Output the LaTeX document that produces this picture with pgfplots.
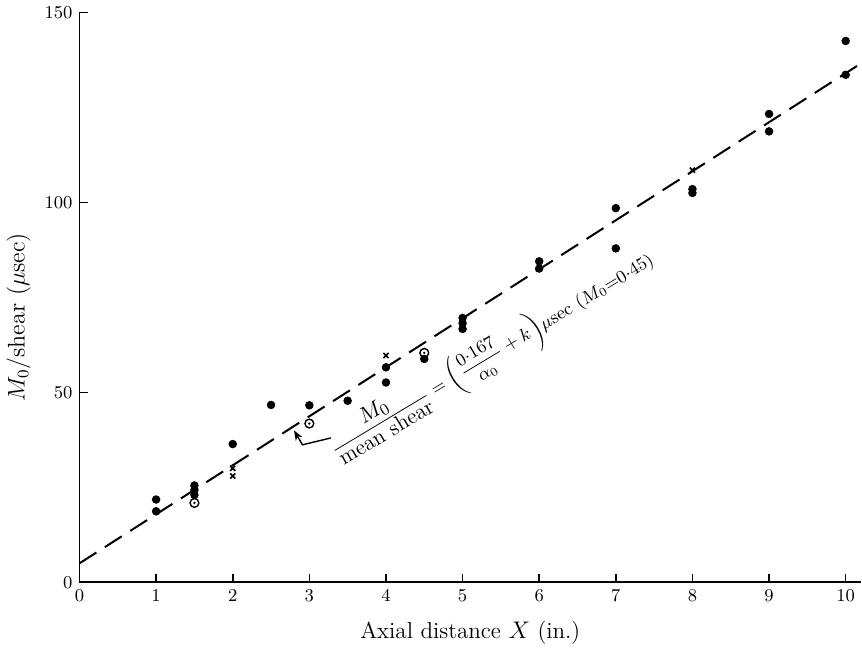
\documentclass[border=0pt]{standalone}
\usepackage{pgfplots}
\pgfplotsset{compat=1.18}
\usetikzlibrary{arrows.meta}
\usepackage{amsmath}

% open circle with a dot in the middle
\pgfdeclareplotmark{odot}{%
  \pgfpathcircle{\pgfpointorigin}{\pgfplotmarksize}\pgfusepathqstroke
  \pgfpathcircle{\pgfpointorigin}{0.3\pgfplotmarksize}\pgfusepathqfill}

\begin{document}
\begin{tikzpicture}
\begin{axis}[
  scale only axis,
  width=389.5pt, height=284pt,
  xmin=0, xmax=10.2,
  ymin=0, ymax=150,
  axis lines*=left,
  axis line style={line width=0.9pt},
  xtick={0,1,...,10},
  ytick={0,50,100,150},
  tick align=inside,
  major tick length=4pt,
  tick style={line width=0.8pt, black},
  ticklabel style={font=\small},
  xlabel={Axial distance $X$ (in.)},
  ylabel={$M_0$/shear ($\mu$sec)},
  xlabel style={font=\fontsize{11.5}{13}\selectfont, yshift=-3pt},
  ylabel style={font=\fontsize{12}{14}\selectfont, xshift=-10pt},
  clip=false,
]
% fitted line
\addplot[black, line width=1pt, dash pattern=on 10pt off 5pt] coordinates {
  (0,5.0) (10.2,136.6)
};
% filled points
\addplot[only marks, mark=*, mark size=1.9pt, black] coordinates {
  (1,21.8) (1,18.7)
  (1.5,25.5) (1.5,24.3) (1.5,23.0)
  (2,36.4)
  (2.5,46.7)
  (3,46.6)
  (3.5,47.8)
  (4,56.6) (4,52.6)
  (4.5,58.8)
  (5,69.6) (5,68.2) (5,66.7)
  (6,84.5) (6,82.6)
  (7,98.5) (7,87.9)
  (8,103.5) (8,102.5)
  (9,123.3) (9,118.7)
  (10,142.5) (10,133.6)
};
% open circles
\addplot[only marks, mark=odot, mark size=2.2pt, black, mark options={line width=0.7pt}] coordinates {
  (1.5,20.9) (3,41.8) (4.5,60.4)
};
% crosses
\addplot[only marks, mark=x, mark size=1.8pt, black, mark options={line width=0.8pt}] coordinates {
  (2,30.0) (2,28.0) (4,59.7) (8,108.5)
};
% annotation
\node[rotate=31, anchor=base west, inner sep=0pt, font=\small] at (axis cs:3.33,33.3)
  {$\dfrac{\text{\fontsize{11}{13}\selectfont$M_0$}}{\text{\fontsize{11}{13}\selectfont mean shear}}=\biggl(\dfrac{0{\cdot}167}{\alpha_0}+k\biggr)\mu\text{sec}\ (M_0{=}0{\cdot}45)$};
\draw[line width=0.7pt, -{Stealth[length=5pt]}] (axis cs:3.28,38.0) -- (axis cs:2.91,36.2) -- (axis cs:2.80,40.0);
\end{axis}
\end{tikzpicture}
\end{document}
